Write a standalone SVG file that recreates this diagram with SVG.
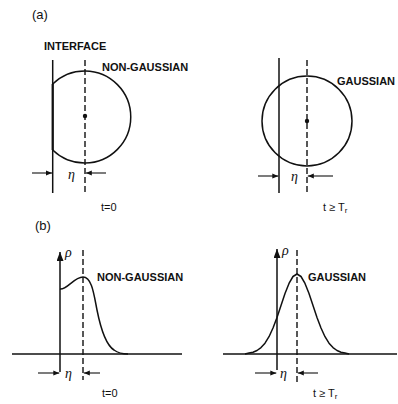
<svg xmlns="http://www.w3.org/2000/svg" width="398" height="404" viewBox="0 0 398 404">
<style>
.ln{stroke:#111;stroke-width:1.5;fill:none}
.ds{stroke:#111;stroke-width:1.4;fill:none;stroke-dasharray:6 3}
.dm{stroke:#111;stroke-width:1.1;fill:none}
.lb{font-family:"Liberation Sans",Arial,sans-serif;font-weight:bold;font-size:11px;fill:#111}
.tt{font-family:"Liberation Sans",Arial,sans-serif;font-size:11px;fill:#111}
.pl{font-family:"Liberation Sans",Arial,sans-serif;font-size:13px;fill:#111}
.gk{font-family:"Liberation Serif","Times New Roman",serif;font-style:italic;font-size:14px;fill:#111}
</style>
<defs>
<marker id="ah" markerWidth="6" markerHeight="6" refX="6" refY="3" orient="auto" markerUnits="userSpaceOnUse"><path d="M0,0.5 L6,3 L0,5.5 Z" fill="#111"/></marker>
<marker id="ax" markerWidth="7" markerHeight="9" refX="3.5" refY="0" orient="0" markerUnits="userSpaceOnUse"><path d="M0,9 L3.5,0 L7,9 Z" fill="#111"/></marker>
</defs>
<text class="pl" x="32" y="19">(a)</text>
<text class="pl" x="35" y="230">(b)</text>
<g id="a-left">
<text class="lb" x="44" y="50">INTERFACE</text>
<line class="ln" x1="52.7" y1="60" x2="52.7" y2="193"/>
<line class="ds" x1="85" y1="60" x2="85" y2="193"/>
<path class="ln" d="M52.7,84 A46,46 0 1 1 52.7,150"/>
<line x1="52.7" y1="84" x2="52.7" y2="150" stroke="#111" stroke-width="2.2"/>
<circle cx="85" cy="116" r="2.2" fill="#111"/>
<text class="lb" x="102" y="71">NON-GAUSSIAN</text>
<text class="gk" x="68" y="179">η</text>
<text class="tt" x="101" y="211">t=0</text>
</g>
<g id="a-right">
<line class="ln" x1="279" y1="58" x2="279" y2="193"/>
<line class="ds" x1="307" y1="60" x2="307" y2="193"/>
<circle class="ln" cx="307" cy="121" r="45"/>
<circle cx="307" cy="121" r="2.2" fill="#111"/>
<text class="lb" x="337" y="85">GAUSSIAN</text>
<text class="gk" x="291" y="181">η</text>
<text class="tt" x="323" y="211">t ≥ T<tspan font-size="8" dy="2">r</tspan></text>
</g>
<g id="b-left">
<line class="ln" x1="12" y1="354" x2="182" y2="354"/>
<line class="ln" x1="60" y1="252" x2="60" y2="372" marker-start="url(#ax)"/>
<text class="gk" x="65" y="257">ρ</text>
<line class="ds" x1="83" y1="250" x2="83" y2="380"/>
<path class="ln" d="M60,289 C67,290 74,277 83,277 C92,277 94,295 97,310 C101,330 106,345 114,350 C118,353 122,354 128,354"/>
<text class="lb" x="97" y="281">NON-GAUSSIAN</text>
<text class="gk" x="65" y="378">η</text>
<text class="tt" x="102" y="397">t=0</text>
</g>
<g id="b-right">
<line class="ln" x1="223" y1="354" x2="397" y2="354"/>
<line class="ln" x1="277" y1="249" x2="277" y2="370" marker-start="url(#ax)"/>
<text class="gk" x="282" y="255">ρ</text>
<line class="ds" x1="297" y1="250" x2="297" y2="385"/>
<polyline class="ln" stroke-linejoin="round" points="245,354 249,353.1 253,352.2 257,350.5 261,347.6 265,343.2 269,336.7 273,328 277,317.4 281,305.5 285,293.6 289,283.4 293,276.5 297,274 301,276.5 305,283.4 309,293.6 313,305.5 317,317.4 321,328 325,336.7 329,343.2 333,347.6 337,350.5 341,352.2 345,353.1 349,354"/>
<text class="lb" x="308" y="281">GAUSSIAN</text>
<text class="gk" x="280" y="378">η</text>
<text class="tt" x="313" y="397">t ≥ T<tspan font-size="8" dy="2">r</tspan></text>
</g>
<g id="connectors">
<line class="dm" x1="32" y1="173" x2="52" y2="173" marker-end="url(#ah)"/>
<line class="dm" x1="106" y1="173" x2="85.8" y2="173" marker-end="url(#ah)"/>
<line class="dm" x1="258" y1="176" x2="278.3" y2="176" marker-end="url(#ah)"/>
<line class="dm" x1="333" y1="176" x2="307.8" y2="176" marker-end="url(#ah)"/>
<line class="dm" x1="38" y1="373" x2="59.3" y2="373" marker-end="url(#ah)"/>
<line class="dm" x1="100" y1="373" x2="83.8" y2="373" marker-end="url(#ah)"/>
<line class="dm" x1="255" y1="373" x2="276.3" y2="373" marker-end="url(#ah)"/>
<line class="dm" x1="318" y1="373" x2="297.8" y2="373" marker-end="url(#ah)"/>
</g>
</svg>
